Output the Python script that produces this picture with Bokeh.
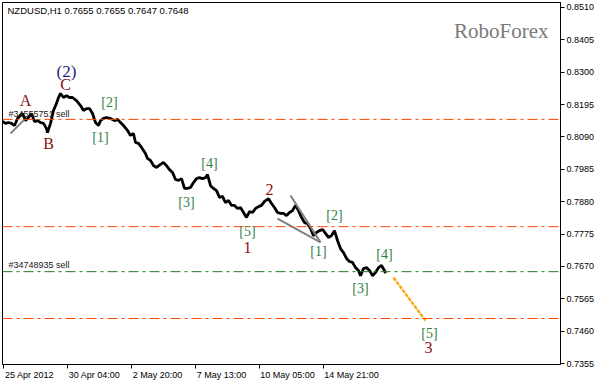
from bokeh.plotting import figure
from bokeh.models import Range1d, FixedTicker, Span, Label, NumeralTickFormatter
from bokeh.core.properties import value
from bokeh.embed import file_html
from bokeh.resources import INLINE

# ---- data (bar index on H1 chart, price) ----
bars = [0, 3, 6, 9, 12, 15, 18, 20, 23, 26, 29, 32, 35, 38, 41, 44, 45, 48, 51, 54,
        56, 58, 61, 64, 67, 70, 74, 78, 81, 84, 87, 90, 93, 96, 98, 101, 104, 108, 112, 115,
        118, 121, 125, 128, 131, 133, 136, 139, 143, 145, 148, 151, 154, 158, 161, 164, 167, 170, 173, 176,
        179, 182, 185, 188, 191, 194, 197, 200, 203, 205, 208, 211, 214, 217, 220, 223, 226, 229, 232, 235,
        238, 241, 244, 247, 250, 253, 256, 259, 262, 266, 269, 272, 275, 278, 281, 284, 287, 290, 293, 296,
        299, 302, 305, 308, 311, 314, 317, 320, 323, 326, 329, 332, 335, 338, 341, 344, 347, 350, 353, 356,
        358, 361, 364, 367, 370, 373, 376, 379, 382, 383]
close = [0.8140, 0.8134, 0.8137, 0.8134, 0.8127, 0.8150, 0.8160, 0.8166, 0.8143, 0.8153,
         0.8166, 0.8140, 0.8143, 0.8137, 0.8134, 0.8117, 0.8104, 0.8134, 0.8176, 0.8199,
         0.8218, 0.8231, 0.8218, 0.8224, 0.8218, 0.8218, 0.8208, 0.8192, 0.8176, 0.8182,
         0.8182, 0.8166, 0.8137, 0.8127, 0.8143, 0.8150, 0.8153, 0.8150, 0.8143, 0.8147,
         0.8137, 0.8127, 0.8111, 0.8095, 0.8101, 0.8072, 0.8069, 0.8056, 0.8036, 0.8020,
         0.8014, 0.7997, 0.7991, 0.8001, 0.8007, 0.7997, 0.7984, 0.7975, 0.7952, 0.7949,
         0.7955, 0.7923, 0.7923, 0.7926, 0.7942, 0.7955, 0.7958, 0.7955, 0.7958, 0.7968,
         0.7932, 0.7923, 0.7916, 0.7894, 0.7897, 0.7877, 0.7884, 0.7868, 0.7868, 0.7858,
         0.7861, 0.7845, 0.7829, 0.7848, 0.7845, 0.7858, 0.7864, 0.7868, 0.7881, 0.7890,
         0.7874, 0.7861, 0.7845, 0.7842, 0.7842, 0.7835, 0.7845, 0.7851, 0.7868, 0.7851,
         0.7829, 0.7812, 0.7809, 0.7793, 0.7770, 0.7780, 0.7786, 0.7790, 0.7777, 0.7764,
         0.7770, 0.7786, 0.7754, 0.7728, 0.7715, 0.7696, 0.7686, 0.7683, 0.7666, 0.7657,
         0.7640, 0.7663, 0.7666, 0.7657, 0.7640, 0.7650, 0.7666, 0.7673, 0.7657, 0.7648]

time_tick_bars = [1, 65, 129, 193, 257, 321]
time_tick_labels = ["25 Apr 2012", "30 Apr 04:00", "2 May 20:00", "7 May 13:00",
                    "10 May 05:00", "14 May 21:00"]
price_ticks = [0.8510, 0.8405, 0.8300, 0.8195, 0.8090, 0.7985, 0.7880,
               0.7775, 0.7670, 0.7565, 0.7460, 0.7355]

red_levels = [0.8147, 0.7799, 0.7501]
green_levels = [0.7653]
order_labels = ["#34555751 sell", "#34748935 sell"]
order_label_prices = [0.8166, 0.7673]
last_price = 0.7648
title_text = "NZDUSD,H1  0.7655 0.7655 0.7647 0.7648"

# wave labels
big_text = ["C", "A", "B", "1", "2", "3"]
big_x = [63, 23, 46, 245, 267, 426]
big_y = [0.8260, 0.8208, 0.8069, 0.7731, 0.7920, 0.7407]
minor_text = ["[1]", "[2]", "[3]", "[4]", "[5]", "[1]", "[2]", "[3]", "[4]", "[5]"]
minor_x = [98, 107, 184, 207, 245, 316, 332, 358, 382, 427]
minor_y = [0.8088, 0.8202, 0.7877, 0.8004, 0.7783, 0.7718, 0.7835, 0.7598, 0.7709, 0.7452]
top_text = ["(2)"]
top_x = [64]
top_y = [0.8302]

# drawn trend lines
gray_x0 = [8, 288, 275]
gray_y0 = [0.8101, 0.7900, 0.7825]
gray_x1 = [22, 318, 318]
gray_y1 = [0.8147, 0.7748, 0.7748]
forecast_x = [391, 423]
forecast_y = [0.7634, 0.7494]

# ---- figure ----
p = figure(width=600, height=383, x_range=Range1d(0, 558), y_range=Range1d(0.73518, 0.85262),
           output_backend="svg", toolbar_location=None, y_axis_location="right",
           min_border_left=2, min_border_top=2, min_border_right=40, min_border_bottom=19)
p.background_fill_color = "white"
p.border_fill_color = "white"
p.outline_line_color = "black"
p.outline_line_width = 1
p.xgrid.visible = False
p.ygrid.visible = False

ya = p.yaxis[0]
ya.ticker = FixedTicker(ticks=price_ticks)
ya.formatter = NumeralTickFormatter(format="0.0000")
ya.major_tick_out = 4
ya.major_tick_in = 0
ya.minor_tick_out = 0
ya.minor_tick_in = 0
ya.major_label_standoff = 2
ya.major_label_text_font = "Liberation Sans"
ya.major_label_text_font_size = "9px"
ya.major_label_text_color = "black"
ya.axis_line_color = "black"

# time axis: tick marks drawn as minor ticks at the bar positions, labels placed
# so that each text starts just right of its tick (MetaTrader style)
_w = {" ": 0.278, ":": 0.278, "A": 0.667, "M": 0.833, "p": 0.556, "r": 0.333,
      "a": 0.556, "y": 0.5}
def text_width(s, size=9.0):
    return sum(_w.get(c, 0.556) for c in s) * size

label_centers = [b + 1 + round(text_width(t) / 2) for b, t in zip(time_tick_bars, time_tick_labels)]
xa = p.xaxis[0]
xa.ticker = FixedTicker(ticks=label_centers, minor_ticks=time_tick_bars)
xa.major_label_overrides = {c: t for c, t in zip(label_centers, time_tick_labels)}
xa.major_tick_out = 0
xa.major_tick_in = 0
xa.major_tick_line_color = None
xa.minor_tick_out = 4
xa.minor_tick_in = 0
xa.minor_tick_line_color = "black"
xa.major_label_standoff = 1
xa.major_label_text_font = "Liberation Sans"
xa.major_label_text_font_size = "9px"
xa.major_label_text_color = "black"
xa.axis_line_color = "black"
xa.axis_label = None

# horizontal levels
for lv in red_levels:
    p.add_layout(Span(location=lv, dimension="width", line_color="#FF4500",
                      line_width=1, line_dash="10 4 3 4"))
for lv in green_levels:
    p.add_layout(Span(location=lv, dimension="width", line_color="#1E7B1E",
                      line_width=1, line_dash="10 4 3 4"))

# price line
p.line(bars, close, line_color="black", line_width=2.8)

# trend lines
p.segment(gray_x0, gray_y0, gray_x1, gray_y1, line_color="#808080", line_width=2)
p.line(forecast_x, forecast_y, line_color="#FFA000", line_width=2.2, line_dash="4 1")

# wave labels
p.text(big_x, big_y, text=big_text, text_font=value("Liberation Serif"), text_font_size="16px",
       text_color="#8B1010", text_align="center", text_baseline="middle")
p.text(minor_x, minor_y, text=minor_text, text_font=value("Liberation Serif"), text_font_size="14px",
       text_color="#2F7F45", text_align="center", text_baseline="middle")
p.text(top_x, top_y, text=top_text, text_font=value("Liberation Serif"), text_font_size="17px",
       text_color="#1C1C80", text_align="center", text_baseline="middle")

# order labels
for t, y in zip(order_labels, order_label_prices):
    p.add_layout(Label(x=6, y=y, text=t, text_align="left", text_baseline="middle",
                       text_font="Liberation Sans", text_font_size="9px", text_color="#202020"))

# title and watermark
p.add_layout(Label(x=5, y=0.8499, text=title_text, text_align="left", text_baseline="middle",
                   text_font="Liberation Sans", text_font_size="9.5px", text_color="black"))
p.add_layout(Label(x=546, y=0.8435, text="RoboForex", text_align="right", text_baseline="alphabetic",
                   text_font="Liberation Serif", text_font_size="21px", text_color="#7A7A7A"))

# current price tag
p.add_layout(Label(x=563, y=last_price, text="%.4f" % last_price, text_align="left",
                   text_baseline="middle", text_font="Liberation Sans", text_font_size="9px",
                   text_color="white", background_fill_color="black", padding=2))

open("out.html", "w").write(file_html(p, INLINE))
